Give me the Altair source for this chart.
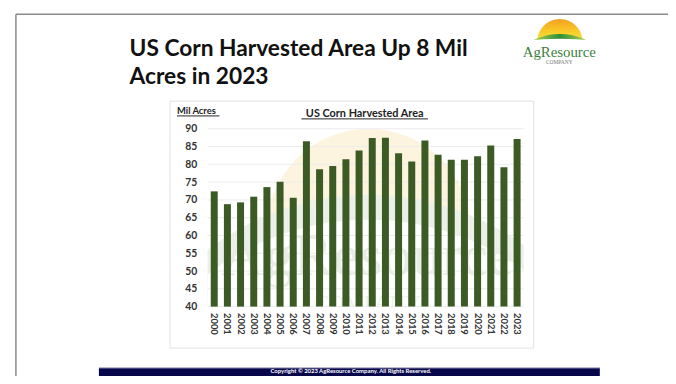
import altair as alt
import pandas as pd

# ---------------- data ----------------
years = [str(y) for y in range(2000, 2024)]
acres = [72.4, 68.8, 69.3, 70.9, 73.6, 75.1, 70.6, 86.5, 78.6, 79.5, 81.4, 83.9,
         87.4, 87.5, 83.1, 80.8, 86.7, 82.7, 81.3, 81.3, 82.3, 85.3, 79.2, 87.1]
y_ticks = [40, 45, 50, 55, 60, 65, 70, 75, 80, 85, 90]

title_lines = ["US Corn Harvested Area Up 8 Mil", "Acres in 2023"]
chart_title = ["US Corn Harvested Area"]
unit_label = ["Mil Acres"]
logo_text = ["AgResource", "COMPANY"]
copyright_text = ["Copyright \u00a9 2023 AgResource Company. All Rights Reserved."]

# ---------------- layout helpers ----------------
OX, OY = 210, 128          # page position of the plot-area origin
W, H = 320, 180            # plot area


def px(x):
    return x - OX


def py(y):
    return y - OY


one = pd.DataFrame({"a": [0]})
bars_df = pd.DataFrame({"year": years, "acres": acres})
grid_df = pd.DataFrame({"acres": y_ticks})

FONT = "Lato"
SERIF = "Liberation Serif"
TWO_PI = 6.2832


def disc(cx, cy, r, fill, clip=False):
    return alt.Chart(one).mark_arc(theta=0, theta2=TWO_PI, radius=r, fill=fill,
                                   clip=clip).encode(
        x=alt.value(px(cx)), y=alt.value(py(cy)))


def text(s, x, y, size, color="#111", weight="bold", align="left", font=FONT,
         baseline="alphabetic", clip=False):
    return alt.Chart(one).mark_text(text=s, align=align, baseline=baseline,
                                    font=font, fontSize=size, fontWeight=weight,
                                    color=color, clip=clip).encode(
        x=alt.value(px(x)), y=alt.value(py(y)))


def hline(x1, x2, y, color, width=1.0):
    return alt.Chart(one).mark_rule(color=color, strokeWidth=width).encode(
        x=alt.value(px(x1)), x2=alt.value(px(x2)), y=alt.value(py(y)))


def vline(x, y1, y2, color, width=1.0):
    return alt.Chart(one).mark_rule(color=color, strokeWidth=width).encode(
        x=alt.value(px(x)), y=alt.value(py(y1)), y2=alt.value(py(y2)))


def box(x1, x2, y1, y2, fill, stroke=None, sw=0):
    mk = dict(fill=fill)
    if stroke is not None:
        mk.update(stroke=stroke, strokeWidth=sw)
    return alt.Chart(one).mark_rect(**mk).encode(
        x=alt.value(px(x1)), x2=alt.value(px(x2)),
        y=alt.value(py(y1)), y2=alt.value(py(y2)))


# ---------------- logo (top right) ----------------
sun_grad = alt.Gradient(gradient="linear", x1=0, x2=0, y1=0, y2=1,
                        stops=[alt.GradientStop(color="#f4a11f", offset=0),
                               alt.GradientStop(color="#f9cf2a", offset=0.3),
                               alt.GradientStop(color="#f9d84a", offset=0.45)])
hill_grad = alt.Gradient(gradient="linear", x1=0, x2=1, y1=0, y2=0,
                         stops=[alt.GradientStop(color="#9ccc4a", offset=0.3),
                                alt.GradientStop(color="#2f8f3a", offset=0.5),
                                alt.GradientStop(color="#9ccc4a", offset=0.7)])
logo = [
    disc(566.5, 40, 23, sun_grad),
    disc(566.5, 91.3, 59.3, hill_grad),
    # large white disc: leaves only a tapered green crescent (drawn before the panel)
    disc(566.5, 375.5, 338.5, "#ffffff"),
]
logo_words = [
    text(logo_text[0], 566, 55, 15, color="#3c7f3c", weight="normal",
         align="center", font=SERIF),
    text(logo_text[1], 566, 62, 5.5, color="#777777", weight="normal",
         align="center", font=SERIF),
]

# ---------------- slide frame ----------------
frame = [hline(16, 690, 12, "#8a8a8a", 1.5), vline(16, 12, 400, "#8a8a8a", 1.5)]

# ---------------- chart panel ----------------
panel = [box(172, 540, 100, 350, "#ffffff", "#e2e2e2", 1)]

# ---------------- faint watermark inside plot ----------------
watermark = [
    disc(373, 231, 103, "#fdf4e0", clip=True),
    disc(373, 462, 267, "#ebf1e8", clip=True),
    disc(373, 487, 267, "#ffffff", clip=True),
    text(logo_text[0], 372, 276, 60, color="#e8eee6", weight="normal",
         align="center", font=SERIF, clip=True),
    text(logo_text[1], 372, 311, 22, color="#ecf1ea", weight="normal",
         align="center", font=SERIF, clip=True),
]

# ---------------- gridlines + bars ----------------
y_scale = alt.Scale(domain=[40, 90], nice=False, zero=False)
x_scale = alt.Scale(domain=years, paddingInner=0.47, paddingOuter=0.24)
y_axis = alt.Axis(title=None, values=y_ticks, grid=False, domain=False,
                  ticks=False, labelPadding=11, labelFont=FONT,
                  labelFontWeight="bold", labelFontSize=10.5,
                  labelColor="#333333", zindex=1)

grid = alt.Chart(grid_df).mark_rule(color="#ececec", strokeWidth=1).encode(
    y=alt.Y("acres:Q", scale=y_scale, axis=y_axis))

bars = alt.Chart(bars_df).mark_bar(color="#3b5a24").encode(
    x=alt.X("year:N", scale=x_scale, sort=years,
            axis=alt.Axis(title=None, labelAngle=90, domain=False, ticks=False,
                          labelPadding=6, labelFont=FONT, labelFontWeight="bold",
                          labelFontSize=9.5, labelColor="#333333", zindex=1)),
    y=alt.Y("acres:Q", scale=y_scale, axis=y_axis),
    y2=alt.Y2(datum=40),
)

# ---------------- texts ----------------
texts = [
    text(title_lines[0], 131, 54, 23),
    text(title_lines[1], 131, 83, 23),
    text(chart_title[0], 369, 116, 11, color="#222222", align="center"),
    hline(305, 433, 118, "#222222", 1),
    text(unit_label[0], 179, 113, 9.5, color="#222222"),
    hline(179, 222, 115, "#222222", 1),
]

# ---------------- copyright band ----------------
band = [
    box(100, 607, 370, 400, "#07064a"),
    hline(100, 607, 370, "#b8b8cc", 1),
    text(copyright_text[0], 355, 375.5, 6, color="#ffffff", align="center"),
]

chart = alt.layer(*logo, *frame, *logo_words, *panel, *watermark, grid, bars,
                  *texts, *band).properties(
    width=W, height=H,
    padding={"left": 202, "top": 120, "right": 146, "bottom": 68},
    autosize=alt.AutoSizeParams(type="none"),
    background="#ffffff",
).configure_view(stroke=None)

chart.save("out.html", embed_options={"renderer": "svg", "actions": False})
